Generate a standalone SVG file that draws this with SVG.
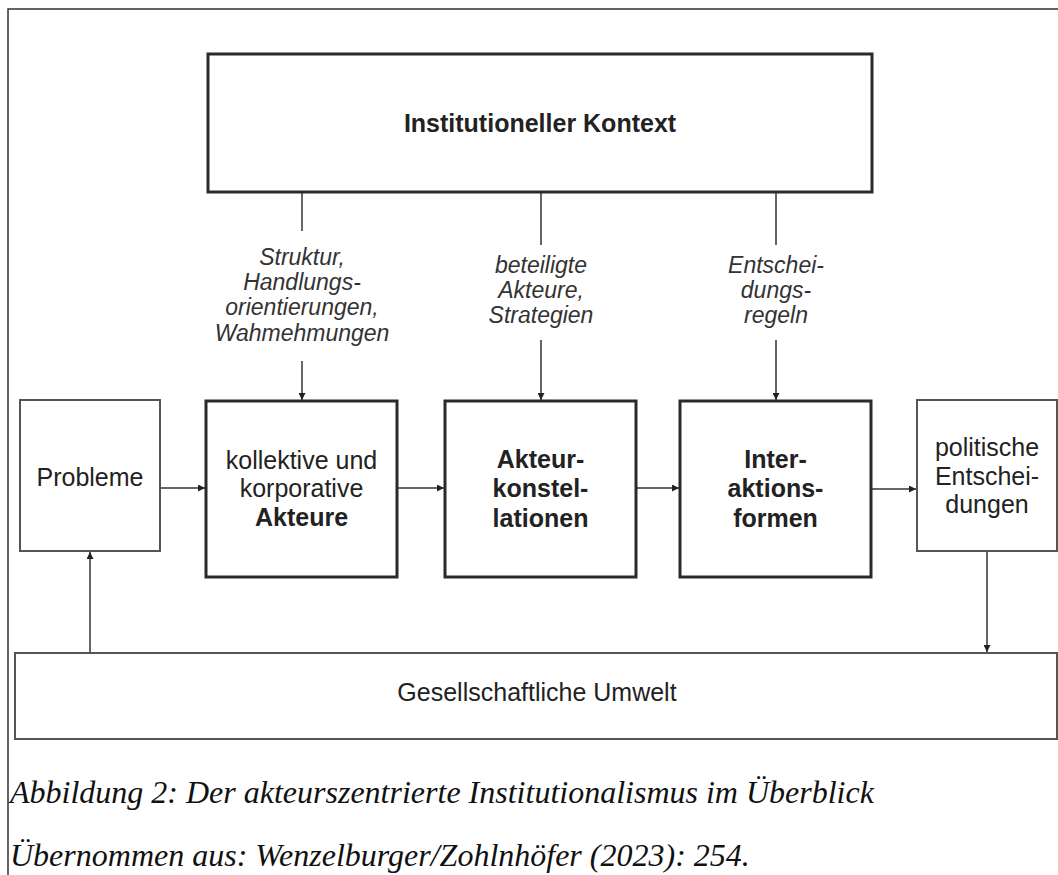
<svg xmlns="http://www.w3.org/2000/svg" width="1058" height="875" viewBox="0 0 1058 875">
<style>
.thick{fill:#fff;stroke:#2a2a2a;stroke-width:3}
.thin{fill:#fff;stroke:#555;stroke-width:2}
.t{font-family:"Liberation Sans",Arial,sans-serif;font-size:25px;fill:#222;text-anchor:middle}
.b{font-weight:bold}
.lbl{font-family:"Liberation Sans",Arial,sans-serif;font-size:23px;font-style:italic;fill:#333;text-anchor:middle}
.cap{font-family:"Liberation Serif","Times New Roman",serif;font-size:32px;font-style:italic;fill:#111}
.ln{stroke:#333;stroke-width:1.5;fill:none}
.ar{stroke:#333;stroke-width:1.5;fill:none;marker-end:url(#ah)}
</style>
<defs>
<marker id="ah" viewBox="0 0 10 10" refX="10" refY="5" markerWidth="9" markerHeight="7" markerUnits="userSpaceOnUse" orient="auto">
<path d="M0,0 L10,5 L0,10 z" fill="#222"/>
</marker>
</defs>
<rect width="1058" height="875" fill="#fff"/>
<g id="frame">
<path d="M8,875 V9 H1058" fill="none" stroke="#333" stroke-width="1.5"/>
</g>
<g id="connectors">
<line class="ln" x1="302" y1="192" x2="302" y2="231"/>
<line class="ar" x1="302" y1="361" x2="302" y2="400"/>
<line class="ln" x1="541" y1="192" x2="541" y2="245"/>
<line class="ar" x1="541" y1="340" x2="541" y2="400"/>
<line class="ln" x1="776" y1="192" x2="776" y2="245"/>
<line class="ar" x1="776" y1="340" x2="776" y2="400"/>
<line class="ar" x1="160" y1="488" x2="205" y2="488"/>
<line class="ar" x1="397" y1="488" x2="444" y2="488"/>
<line class="ar" x1="636" y1="488" x2="679" y2="488"/>
<line class="ar" x1="871" y1="489" x2="916" y2="489"/>
<line class="ar" x1="987" y1="551" x2="987" y2="652"/>
<line class="ar" x1="90" y1="653" x2="90" y2="552"/>
<text class="lbl" x="302" y="265">Struktur,</text>
<text class="lbl" x="302" y="290">Handlungs-</text>
<text class="lbl" x="302" y="315">orientierungen,</text>
<text class="lbl" x="302" y="341">Wahmehmungen</text>
<text class="lbl" x="541" y="273">beteiligte</text>
<text class="lbl" x="541" y="298">Akteure,</text>
<text class="lbl" x="541" y="323">Strategien</text>
<text class="lbl" x="776" y="273">Entschei-</text>
<text class="lbl" x="776" y="298">dungs-</text>
<text class="lbl" x="776" y="323">regeln</text>
</g>
<g id="kontext">
<rect class="thick" x="208" y="54" width="664" height="138"/>
<text class="t b" x="540" y="132">Institutioneller Kontext</text>
</g>
<g id="probleme">
<rect class="thin" x="20" y="400" width="140" height="151"/>
<text class="t" x="90" y="486">Probleme</text>
</g>
<g id="akteure">
<rect class="thick" x="206" y="401" width="191" height="176"/>
<text class="t" x="301.5" y="469">kollektive und</text>
<text class="t" x="301.5" y="497">korporative</text>
<text class="t b" x="301.5" y="526">Akteure</text>
</g>
<g id="konstellationen">
<rect class="thick" x="445" y="401" width="191" height="176"/>
<text class="t b" x="540.5" y="468">Akteur-</text>
<text class="t b" x="540.5" y="497">konstel-</text>
<text class="t b" x="540.5" y="527">lationen</text>
</g>
<g id="interaktionsformen">
<rect class="thick" x="680" y="401" width="191" height="176"/>
<text class="t b" x="775.5" y="468">Inter-</text>
<text class="t b" x="775.5" y="497">aktions-</text>
<text class="t b" x="775.5" y="527">formen</text>
</g>
<g id="entscheidungen">
<rect class="thin" x="917" y="400" width="140" height="151"/>
<text class="t" x="987" y="456">politische</text>
<text class="t" x="987" y="485">Entschei-</text>
<text class="t" x="987" y="513">dungen</text>
</g>
<g id="umwelt">
<rect class="thin" x="15" y="653" width="1042" height="86"/>
<text class="t" x="537" y="701">Gesellschaftliche Umwelt</text>
</g>
<g id="caption">
<text class="cap" x="10" y="803">Abbildung 2: Der akteurszentrierte Institutionalismus im Überblick</text>
<text class="cap" x="10" y="866">Übernommen aus: Wenzelburger/Zohlnhöfer (2023): 254.</text>
</g>
</svg>
